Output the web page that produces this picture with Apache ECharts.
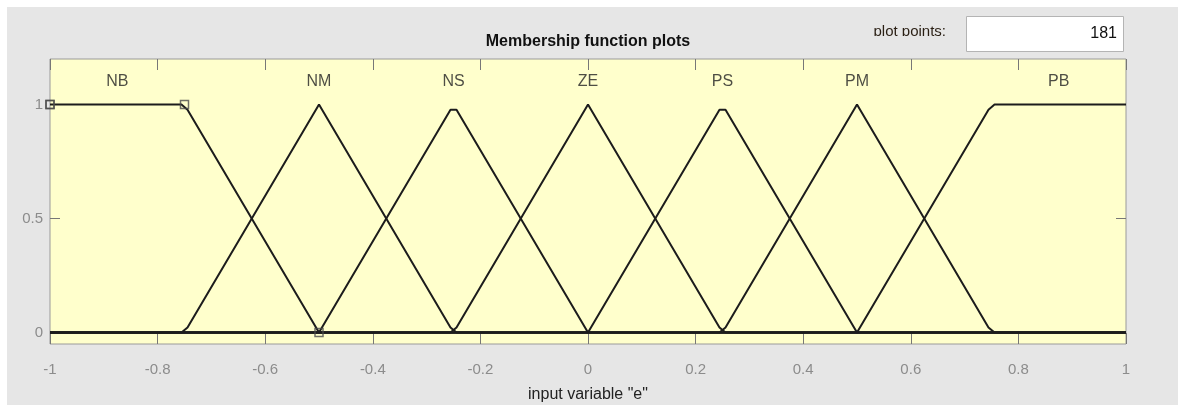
<!DOCTYPE html>
<html>
<head>
<meta charset="utf-8">
<script src="https://cdn.jsdelivr.net/npm/echarts@6/dist/echarts.min.js"></script>
<style>
  html, body { margin: 0; padding: 0; background: #ffffff; }
  #chart { width: 1178px; height: 405px; }
</style>
</head>
<body>
<div id="chart"></div>
<script>
// Membership functions of input variable "e", sampled vertices (x, degree)
const nbX = [-1, -0.7556, -0.7444, -0.5, 1];
const nbY = [1, 1, 0.9778, 0, 0];
const nmX = [-1, -0.7556, -0.7444, -0.5, -0.2556, -0.2444, 1];
const nmY = [0, 0, 0.0222, 1, 0.0222, 0, 0];
const nsX = [-1, -0.5, -0.2556, -0.2444, 0, 1];
const nsY = [0, 0, 0.9778, 0.9778, 0, 0];
const zeX = [-1, -0.2556, -0.2444, 0, 0.2444, 0.2556, 1];
const zeY = [0, 0, 0.0222, 1, 0.0222, 0, 0];
const psX = [-1, 0, 0.2444, 0.2556, 0.5, 1];
const psY = [0, 0, 0.9778, 0.9778, 0, 0];
const pmX = [-1, 0.2444, 0.2556, 0.5, 0.7444, 0.7556, 1];
const pmY = [0, 0, 0.0222, 1, 0.0222, 0, 0];
const pbX = [-1, 0.5, 0.7444, 0.7556, 1];
const pbY = [0, 0, 0.9778, 1, 1];

// Selected function (NB) parameter handles
const handleX = [-1, -1, -0.75, -0.5];
const handleY = [1, 1, 1, 0];

// Function names and where each name sits
const mfNames = ['NB', 'NM', 'NS', 'ZE', 'PS', 'PM', 'PB'];
const mfLabelX = [-0.875, -0.5, -0.25, 0, 0.25, 0.5, 0.875];
const mfLabelY = 1.1;

// Axis ticks
const xTicks = [-1, -0.8, -0.6, -0.4, -0.2, 0, 0.2, 0.4, 0.6, 0.8, 1];
const yTicks = [0, 0.5, 1];

const plotPoints = '181';

const FONT = "'Liberation Sans Narrow', 'Liberation Sans', Arial, sans-serif";
const LINE = '#1c1c1c';

const zip = (xs, ys) => xs.map((x, i) => [x, ys[i]]);
const mfSets = [[nbX, nbY], [nmX, nmY], [nsX, nsY], [zeX, zeY], [psX, psY], [pmX, pmY], [pbX, pbY]];

const mfSeries = mfSets.map((s, i) => ({
  name: mfNames[i],
  type: 'line',
  data: zip(s[0], s[1]),
  symbol: 'none',
  lineStyle: { color: LINE, width: 2 },
  z: 3,
  animation: false
}));

const chart = echarts.init(document.getElementById('chart'), null, { renderer: 'canvas' });

const tickStyle = { lineStyle: { color: '#777', width: 1 } };
const hiddenLine = { show: false, onZero: false };

chart.setOption({
  backgroundColor: '#ffffff',
  animation: false,
  textStyle: { fontFamily: FONT },
  grid: {
    left: 50, right: 52, top: 59, bottom: 61,
    outerBoundsMode: 'none', containLabel: false,
    show: true, backgroundColor: '#ffffcc', borderColor: '#9a9a9a', borderWidth: 1
  },
  xAxis: [{
    type: 'value', min: -1, max: 1, interval: 0.2,
    axisLine: hiddenLine,
    splitLine: { show: false },
    axisTick: { show: true, inside: true, length: 11, ...tickStyle, customValues: xTicks },
    axisLabel: {
      color: '#8c8c8c', fontSize: 15, fontFamily: FONT, margin: 18,
      customValues: xTicks,
      formatter: v => String(Math.round(v * 10) / 10)
    },
    name: 'input variable "e"',
    nameLocation: 'middle', nameGap: 43,
    nameTextStyle: { color: '#222', fontSize: 16, fontFamily: FONT }
  }, {
    type: 'value', min: -1, max: 1, interval: 0.2, position: 'top',
    axisLine: hiddenLine, splitLine: { show: false },
    axisTick: { show: true, inside: true, length: 11, ...tickStyle, customValues: xTicks },
    axisLabel: { show: false }
  }],
  yAxis: [{
    type: 'value', min: -0.05, max: 1.2, position: 'left',
    axisLine: hiddenLine, splitLine: { show: false },
    axisTick: { show: true, inside: true, length: 10, ...tickStyle, customValues: yTicks },
    axisLabel: {
      color: '#8c8c8c', fontSize: 15, fontFamily: FONT, margin: 7,
      customValues: yTicks,
      formatter: v => String(v)
    }
  }, {
    type: 'value', min: -0.05, max: 1.2, position: 'right',
    axisLine: hiddenLine, splitLine: { show: false },
    axisTick: { show: true, inside: true, length: 10, ...tickStyle, customValues: yTicks },
    axisLabel: { show: false }
  }],
  series: mfSeries.concat([{
    name: 'handles',
    type: 'scatter',
    data: zip(handleX, handleY),
    symbol: 'rect',
    symbolSize: 8,
    itemStyle: { color: 'rgba(0,0,0,0)', borderColor: '#4a4a4a', borderWidth: 1.5 },
    z: 4,
    clip: false
  }, {
    name: 'names',
    type: 'scatter',
    data: mfLabelX.map((x, i) => ({ value: [x, mfLabelY], name: mfNames[i] })),
    symbolSize: 0,
    silent: true,
    label: {
      show: true, position: 'inside', formatter: p => p.name,
      color: '#222', fontSize: 16, fontFamily: FONT
    },
    z: 5
  }]),
  graphic: [
    // grey panel behind the plot
    { type: 'rect', left: 7, top: 7, shape: { width: 1171, height: 398 }, style: { fill: '#e6e6e6' }, z: -10 },
    // title
    {
      type: 'text', x: 588, y: 42,
      style: { text: 'Membership function plots', fill: '#111', font: "bold 16px " + FONT, align: 'center', verticalAlign: 'middle' },
      z: 10
    },
    // plot points field
    {
      type: 'text', x: 946, y: 32,
      style: { text: 'plot points:', fill: '#2a1f14', font: "15px " + FONT, align: 'right', verticalAlign: 'middle' },
      z: 10
    },
    { type: 'rect', shape: { x: 860, y: 36, width: 95, height: 10 }, style: { fill: '#e6e6e6' }, z: 11 },
    {
      type: 'rect', shape: { x: 966.5, y: 16.5, width: 157, height: 35 },
      style: { fill: '#ffffff', stroke: '#b4b4b4', lineWidth: 1 }, z: 10
    },
    {
      type: 'text', x: 1117, y: 34,
      style: { text: plotPoints, fill: '#111', font: "16px " + FONT, align: 'right', verticalAlign: 'middle' },
      z: 12
    }
  ]
});
</script>
</body>
</html>
